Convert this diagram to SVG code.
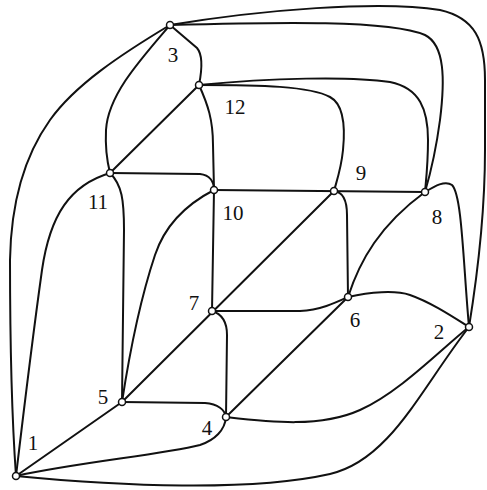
<svg xmlns="http://www.w3.org/2000/svg" width="487" height="490" viewBox="0 0 487 490">
<style>
.e{fill:none;stroke:#111;stroke-width:2;stroke-linecap:round}
.n circle{fill:#fff;stroke:#111;stroke-width:1.5}
.n text{font-family:"Liberation Serif",serif;font-size:21px;fill:#111;text-anchor:middle}
</style>
<rect width="487" height="490" fill="#fff"/>
<g id="connectors">
<path class="e" d="M170,25 C260,10 380,0 440,10 C475,18 485,40 485,80 L485,150 C485,220 475,290 469,327"/>
<path class="e" d="M170,25 C280,22 390,20 425,35 C445,45 445,80 440,120 C436,150 430,175 425,192"/>
<path class="e" d="M199,85 C270,78 350,76 390,82 C420,88 428,110 428,140 C428,165 426,180 425,192"/>
<path class="e" d="M199,85 C260,85 310,86 330,97 C345,105 345,130 343,150 C341,170 336,183 334,191"/>
<path class="e" d="M170,25 L197,48 C203,55 202,70 199,85"/>
<path class="e" d="M170,25 C140,60 108,95 106,130 C105,150 108,165 110,173"/>
<path class="e" d="M170,25 C120,55 75,85 50,120 C25,155 11,200 10,260 C10,350 12,420 16,476"/>
<path class="e" d="M110,173 C70,185 50,215 42,270 C35,320 25,400 16,476"/>
<path class="e" d="M110,173 C122,185 124,200 124,230 L122,402"/>
<path class="e" d="M110,173 L200,174 C210,175 214,182 214,190"/>
<path class="e" d="M110,173 L199,85"/>
<path class="e" d="M199,85 C208,105 213,120 213,145 L214,190"/>
<path class="e" d="M214,190 L425,192"/>
<path class="e" d="M214,190 L212,311"/>
<path class="e" d="M214,190 C185,205 165,225 155,255 C140,300 130,350 122,402"/>
<path class="e" d="M334,191 L122,402"/>
<path class="e" d="M348,297 C360,260 380,225 425,192"/>
<path class="e" d="M334,191 C343,192 347,200 347,215 L348,297"/>
<path class="e" d="M212,311 L300,311 C320,310 335,303 348,297"/>
<path class="e" d="M212,311 C222,314 227,322 227,335 L226,417"/>
<path class="e" d="M122,402 L205,403 C218,404 225,410 226,417"/>
<path class="e" d="M226,417 L348,297"/>
<path class="e" d="M348,297 C370,292 395,290 410,295 C430,302 450,315 469,327"/>
<path class="e" d="M226,417 C270,422 320,428 360,410 C400,392 440,350 469,327"/>
<path class="e" d="M16,476 C120,486 250,492 330,474 C390,460 420,390 469,327"/>
<path class="e" d="M16,476 C80,462 160,455 200,445 C215,440 225,430 226,417"/>
<path class="e" d="M16,476 L122,402"/>
<path class="e" d="M425,192 C435,186 445,180 452,185 C462,195 463,260 469,327"/>
</g>
<g id="node1" class="n"><circle cx="16" cy="476" r="3.5"/><text x="33" y="450">1</text></g>
<g id="node2" class="n"><circle cx="469" cy="327" r="3.5"/><text x="439" y="339">2</text></g>
<g id="node3" class="n"><circle cx="170" cy="25" r="3.5"/><text x="173" y="62">3</text></g>
<g id="node4" class="n"><circle cx="226" cy="417" r="3.5"/><text x="207" y="435">4</text></g>
<g id="node5" class="n"><circle cx="122" cy="402" r="3.5"/><text x="103" y="404">5</text></g>
<g id="node6" class="n"><circle cx="348" cy="297" r="3.5"/><text x="355" y="327">6</text></g>
<g id="node7" class="n"><circle cx="212" cy="311" r="3.5"/><text x="194" y="310">7</text></g>
<g id="node8" class="n"><circle cx="425" cy="192" r="3.5"/><text x="437" y="224">8</text></g>
<g id="node9" class="n"><circle cx="334" cy="191" r="3.5"/><text x="361" y="180">9</text></g>
<g id="node10" class="n"><circle cx="214" cy="190" r="3.5"/><text x="233" y="220">10</text></g>
<g id="node11" class="n"><circle cx="110" cy="173" r="3.5"/><text x="98" y="209">11</text></g>
<g id="node12" class="n"><circle cx="199" cy="85" r="3.5"/><text x="235" y="114">12</text></g>
</svg>
